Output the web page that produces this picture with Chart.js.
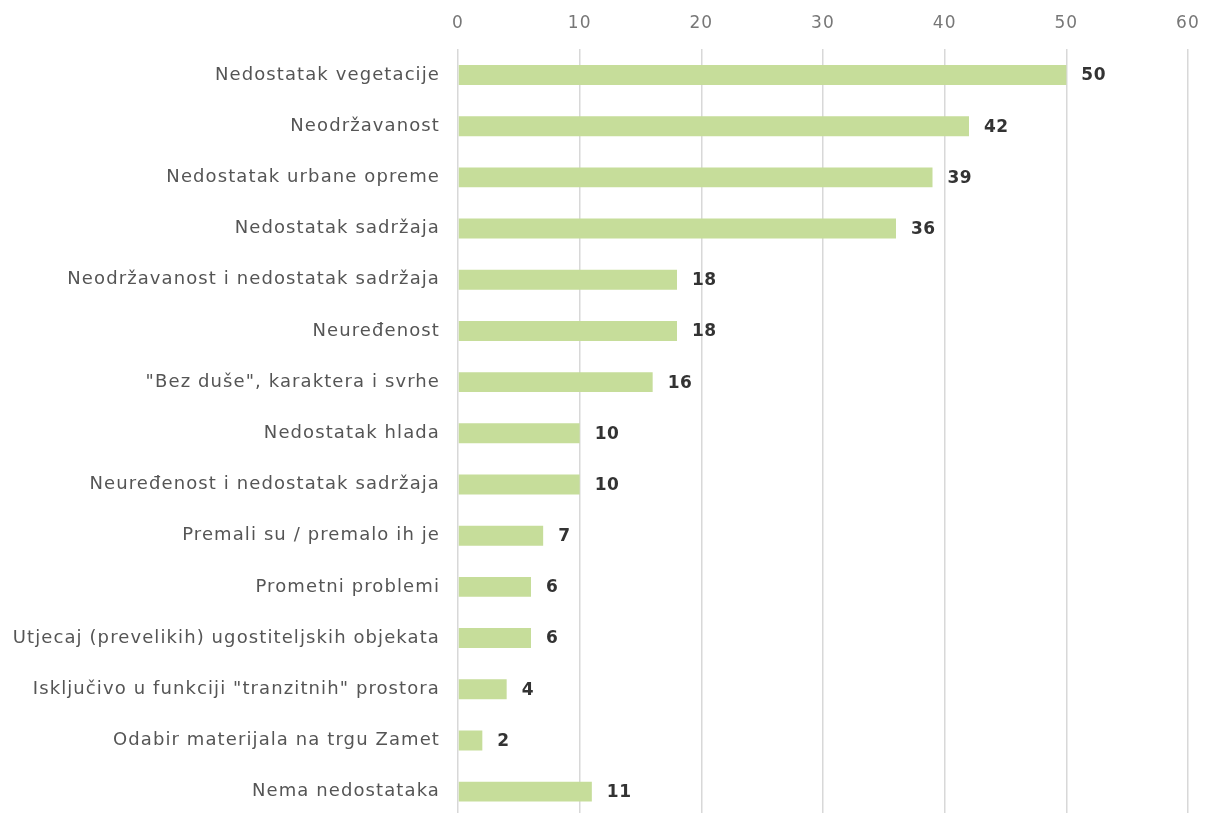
<!DOCTYPE html>
<html><head><meta charset="utf-8">
<script src="https://cdn.jsdelivr.net/npm/chart.js@4/dist/chart.umd.min.js"></script>
<style>html,body{margin:0;padding:0;background:#fff;overflow:hidden}#wrap{width:1205px;height:846px;position:relative}</style>
</head><body><div id="wrap"><canvas id="c"></canvas></div>
<script>
const categories = [
  "Nedostatak vegetacije",
  "Neodržavanost",
  "Nedostatak urbane opreme",
  "Nedostatak sadržaja",
  "Neodržavanost i nedostatak sadržaja",
  "Neuređenost",
  "\"Bez duše\", karaktera i svrhe",
  "Nedostatak hlada",
  "Neuređenost i nedostatak sadržaja",
  "Premali su / premalo ih je",
  "Prometni problemi",
  "Utjecaj (prevelikih) ugostiteljskih objekata",
  "Isključivo u funkciji \"tranzitnih\" prostora",
  "Odabir materijala na trgu Zamet",
  "Nema nedostataka"
];
const values = [50, 42, 39, 36, 18, 18, 16, 10, 10, 7, 6, 6, 4, 2, 11];
const xTicks = [0, 10, 20, 30, 40, 50, 60];

const FONT = "'DejaVu Sans', sans-serif";
const spacingPlugin = {
  id: 'spacing',
  beforeDraw(chart) { chart.ctx.letterSpacing = '1.1px'; }
};
const labelPlugin = {
  id: 'valueLabels',
  afterDatasetsDraw(chart) {
    const ctx = chart.ctx;
    const meta = chart.getDatasetMeta(0);
    ctx.save();
    ctx.letterSpacing = '0.5px';
    ctx.font = "bold 17px " + FONT;
    ctx.fillStyle = '#333';
    ctx.textAlign = 'left';
    ctx.textBaseline = 'middle';
    meta.data.forEach((bar, i) => {
      ctx.fillText(String(values[i]), bar.x + 15, bar.y + 1);
    });
    ctx.restore();
  }
};

new Chart(document.getElementById('c'), {
  type: 'bar',
  data: {
    labels: categories,
    datasets: [{
      data: values,
      backgroundColor: '#c6dd9a',
      borderWidth: 0,
      barPercentage: 0.78,
      categoryPercentage: 0.5
    }]
  },
  options: {
    indexAxis: 'y',
    responsive: true,
    maintainAspectRatio: false,
    animation: false,
    layout: { padding: { left: 0, right: 17, top: -3, bottom: 0 } },
    plugins: { legend: { display: false }, tooltip: { enabled: false } },
    scales: {
      x: {
        position: 'top',
        min: 0, max: 60,
        afterBuildTicks: s => { s.ticks = xTicks.map(v => ({ value: v })); },
        afterFit: s => { s.paddingRight = 0; s.paddingLeft = 0; },
        ticks: { color: '#777', font: { family: FONT, size: 17 }, padding: 16 },
        grid: { color: '#d8d8d8', lineWidth: 1.5, drawTicks: false },
        border: { display: false }
      },
      y: {
        afterFit: s => { s.width = 458; },
        ticks: { color: '#555', font: { family: FONT, size: 18 }, padding: 18 },
        grid: { display: false, drawTicks: false },
        border: { display: false }
      }
    }
  },
  plugins: [spacingPlugin, labelPlugin]
});
</script></body></html>
